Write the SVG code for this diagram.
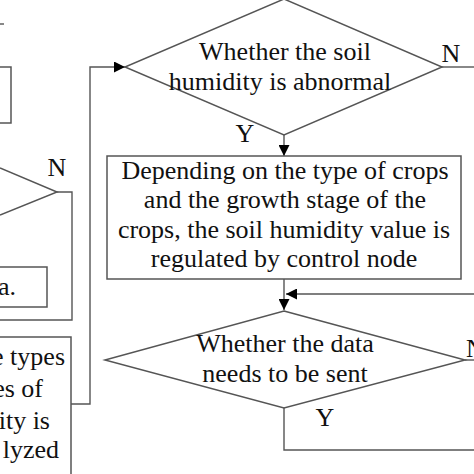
<svg xmlns="http://www.w3.org/2000/svg" width="474" height="474" viewBox="0 0 474 474">
<defs>
<style>
.shape{fill:none;stroke:#555;stroke-width:1.5}
.edge{fill:none;stroke:#555;stroke-width:1.4}
text{font-family:"Liberation Serif","Times New Roman",serif;font-size:26px;fill:#111}
.c{text-anchor:middle}
.e{text-anchor:end}
</style>
<marker id="ah" viewBox="0 0 10 10" refX="10" refY="5" markerWidth="11" markerHeight="11" markerUnits="userSpaceOnUse" orient="auto">
<path d="M0,0 L10,5 L0,10 Z" fill="#000"/>
</marker>
</defs>
<rect width="474" height="474" fill="#fff"/>
<g id="connectors">
<line class="edge" x1="0" y1="24" x2="4" y2="24"/>
<polyline class="edge" points="71,404 90,404 90,67 125,67" marker-end="url(#ah)"/>
<line class="edge" x1="284" y1="135" x2="284" y2="156" marker-end="url(#ah)"/>
<line class="edge" x1="442" y1="67" x2="474" y2="67"/>
<line class="edge" x1="284" y1="279" x2="284" y2="310" marker-end="url(#ah)"/>
<line class="edge" x1="474" y1="294" x2="286" y2="294" marker-end="url(#ah)"/>
<line class="edge" x1="465" y1="360" x2="474" y2="360"/>
<polyline class="edge" points="284,408 284,450 474,450"/>
<polyline class="edge" points="57,192 72,192 72,320 0,320"/>
</g>
<g id="node-topleft-box">
<rect class="shape" x="-10" y="67" width="21" height="56"/>
</g>
<g id="node-left-diamond">
<polyline class="shape" points="0,168 57,192 0,215"/>
<text class="c" x="57" y="176">N</text>
</g>
<g id="node-a-box">
<rect class="shape" x="-10" y="267" width="57" height="40"/>
<text class="e" x="16" y="295">a.</text>
</g>
<g id="node-left-bottom-box">
<rect class="shape" x="-10" y="337" width="81" height="150"/>
<text class="e" x="65" y="365">e types</text>
<text class="e" x="43" y="397">es of</text>
<text class="e" x="50" y="429">ity is</text>
<text class="e" x="59" y="458">lyzed</text>
</g>
<g id="node-soil-diamond">
<polygon class="shape" points="284,-1 442,67 284,135 125,67"/>
<text class="c" x="285" y="60">Whether the soil</text>
<text class="c" x="280" y="90">humidity is abnormal</text>
<text class="c" x="451" y="62">N</text>
<text class="c" x="245" y="142">Y</text>
</g>
<g id="node-regulate-box">
<rect class="shape" x="107" y="156" width="354" height="123"/>
<text class="c" x="285" y="179">Depending on the type of crops</text>
<text class="c" x="285" y="208">and the growth stage of the</text>
<text class="c" x="284" y="238">crops, the soil humidity value is</text>
<text class="c" x="284" y="267">regulated by control node</text>
</g>
<g id="node-send-diamond">
<polygon class="shape" points="284,311 465,360 284,408 105,360"/>
<text class="c" x="285" y="352">Whether the data</text>
<text class="c" x="285" y="382">needs to be sent</text>
<text x="466" y="357">N</text>
<text class="c" x="325" y="426">Y</text>
</g>
</svg>
